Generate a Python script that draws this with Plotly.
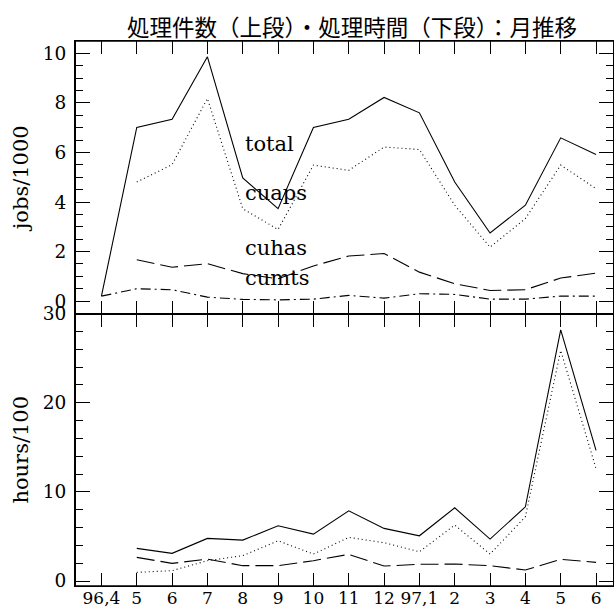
import plotly.graph_objects as go

months = ["96,4", "5", "6", "7", "8", "9", "10", "11", "12", "97,1", "2", "3", "4", "5", "6"]
idx = list(range(len(months)))

# upper panel: jobs/1000
jobs_total = [0.2, 7.01, 7.34, 9.86, 4.97, 3.73, 7.01, 7.34, 8.22, 7.6, 4.81, 2.75, 3.87, 6.59, 5.92]
jobs_cuaps = [None, 4.81, 5.51, 8.18, 3.73, 2.89, 5.49, 5.28, 6.22, 6.12, 3.87, 2.18, 3.33, 5.49, 4.54]
jobs_cuhas = [None, 1.67, 1.37, 1.51, 1.11, 0.9, 1.42, 1.82, 1.92, 1.17, 0.7, 0.43, 0.46, 0.93, 1.13]
jobs_cumts = [0.2, 0.5, 0.46, 0.16, 0.07, 0.05, 0.08, 0.23, 0.12, 0.3, 0.27, 0.08, 0.08, 0.2, 0.2]

# lower panel: hours/100
hours_total = [None, 3.66, 3.1, 4.78, 4.59, 6.19, 5.26, 7.87, 5.9, 5.07, 8.21, 4.7, 8.32, 28.17, 14.66]
hours_cuaps = [None, 0.97, 1.16, 2.28, 2.84, 4.51, 3.02, 4.89, 4.29, 3.28, 6.27, 3.02, 7.2, 25.86, 12.61]
hours_cuhas = [None, 2.65, 1.98, 2.46, 1.72, 1.72, 2.28, 2.99, 1.68, 1.87, 1.9, 1.72, 1.23, 2.43, 2.09]

dashes = {"total": "solid", "cuaps": "1px,3px", "cuhas": "18px,6px", "cumts": "10px,4px,2px,4px"}

SERIF = "DejaVu Serif"
fig = go.Figure()

upper = {"total": jobs_total, "cuaps": jobs_cuaps, "cuhas": jobs_cuhas, "cumts": jobs_cumts}
lower = {"total": hours_total, "cuaps": hours_cuaps, "cuhas": hours_cuhas}

for name, vals in upper.items():
    fig.add_trace(go.Scatter(x=idx, y=vals, mode="lines", name=name, xaxis="x2", yaxis="y2",
                             line=dict(color="black", width=1.1, dash=dashes[name]),
                             showlegend=False, connectgaps=False))
for name, vals in lower.items():
    fig.add_trace(go.Scatter(x=idx, y=vals, mode="lines", name=name, xaxis="x", yaxis="y",
                             line=dict(color="black", width=1.1, dash=dashes[name]),
                             showlegend=False, connectgaps=False))

xr = [-0.72, 14.48]
common_x = dict(range=xr, tickvals=idx, ticks="inside", ticklen=13, tickwidth=1.2, tickcolor="black",
                showline=True, linewidth=1, linecolor="black", mirror="ticks", showgrid=False,
                zeroline=False, fixedrange=True, automargin=False)
common_y = dict(ticks="inside", ticklen=14, tickwidth=1.2, tickcolor="black",
                showline=True, linewidth=2, linecolor="black", mirror="ticks", showgrid=False,
                zeroline=False, automargin=False, ticklabelstandoff=4, fixedrange=True,
                tickfont=dict(family=SERIF, size=18.5, color="black"))

fig.update_layout(
    width=614, height=608,
    paper_bgcolor="white", plot_bgcolor="white",
    margin=dict(l=76, r=1, t=41, b=22),
    xaxis=dict(**common_x, domain=[0, 1], anchor="y", ticktext=months, showticklabels=True,
               ticklabelstandoff=-3,
               tickfont=dict(family=SERIF, size=17, color="black")),
    xaxis2=dict(**common_x, domain=[0, 1], anchor="y2", showticklabels=False),
    yaxis=dict(**common_y, domain=[0, 0.5], anchor="x", range=[-0.56, 30], tickvals=[0, 10, 20, 30],
               minor=dict(dtick=2, tick0=0, ticks="inside", ticklen=7, tickwidth=1, tickcolor="black"),
               title=dict(text="hours/100", font=dict(family=SERIF, size=21, color="black"), standoff=8)),
    yaxis2=dict(**common_y, domain=[0.5, 1], anchor="x2", range=[-0.5, 10.5], tickvals=[0, 2, 4, 6, 8, 10],
                minor=dict(dtick=0.5, tick0=0, ticks="inside", ticklen=7, tickwidth=1, tickcolor="black"),
                title=dict(text="jobs/1000", font=dict(family=SERIF, size=21, color="black"), standoff=8)),
    shapes=[
        dict(type="line", xref="paper", yref="paper", x0=0, x1=1, y0=1, y1=1,
             line=dict(color="black", width=1.5)),
        dict(type="line", xref="paper", yref="paper", x0=0, x1=1, y0=0, y1=0,
             line=dict(color="black", width=1.5)),
    ],
    annotations=[
        dict(text="処理件数（上段）・処理時間（下段）：月推移", xref="paper", yref="paper",
             x=(352 - 76) / 537, y=1 + (41 - 26.5) / 545, xanchor="center", yanchor="middle",
             showarrow=False, font=dict(family="Noto Sans CJK JP", size=22.5, color="black")),
        dict(text="total", xref="x2", yref="y2", x=4.02, y=6.33, xanchor="left", yanchor="middle",
             showarrow=False, font=dict(family=SERIF, size=21, color="black")),
        dict(text="cuaps", xref="x2", yref="y2", x=4.02, y=4.35, xanchor="left", yanchor="middle",
             showarrow=False, font=dict(family=SERIF, size=21, color="black")),
        dict(text="cuhas", xref="x2", yref="y2", x=4.02, y=2.13, xanchor="left", yanchor="middle",
             showarrow=False, font=dict(family=SERIF, size=21, color="black")),
        dict(text="cumts", xref="x2", yref="y2", x=4.02, y=0.92, xanchor="left", yanchor="middle",
             showarrow=False, font=dict(family=SERIF, size=21, color="black")),
    ],
)

fig.write_html("out.html", config={"displayModeBar": False},
               post_script="document.body.style.margin='0';")
